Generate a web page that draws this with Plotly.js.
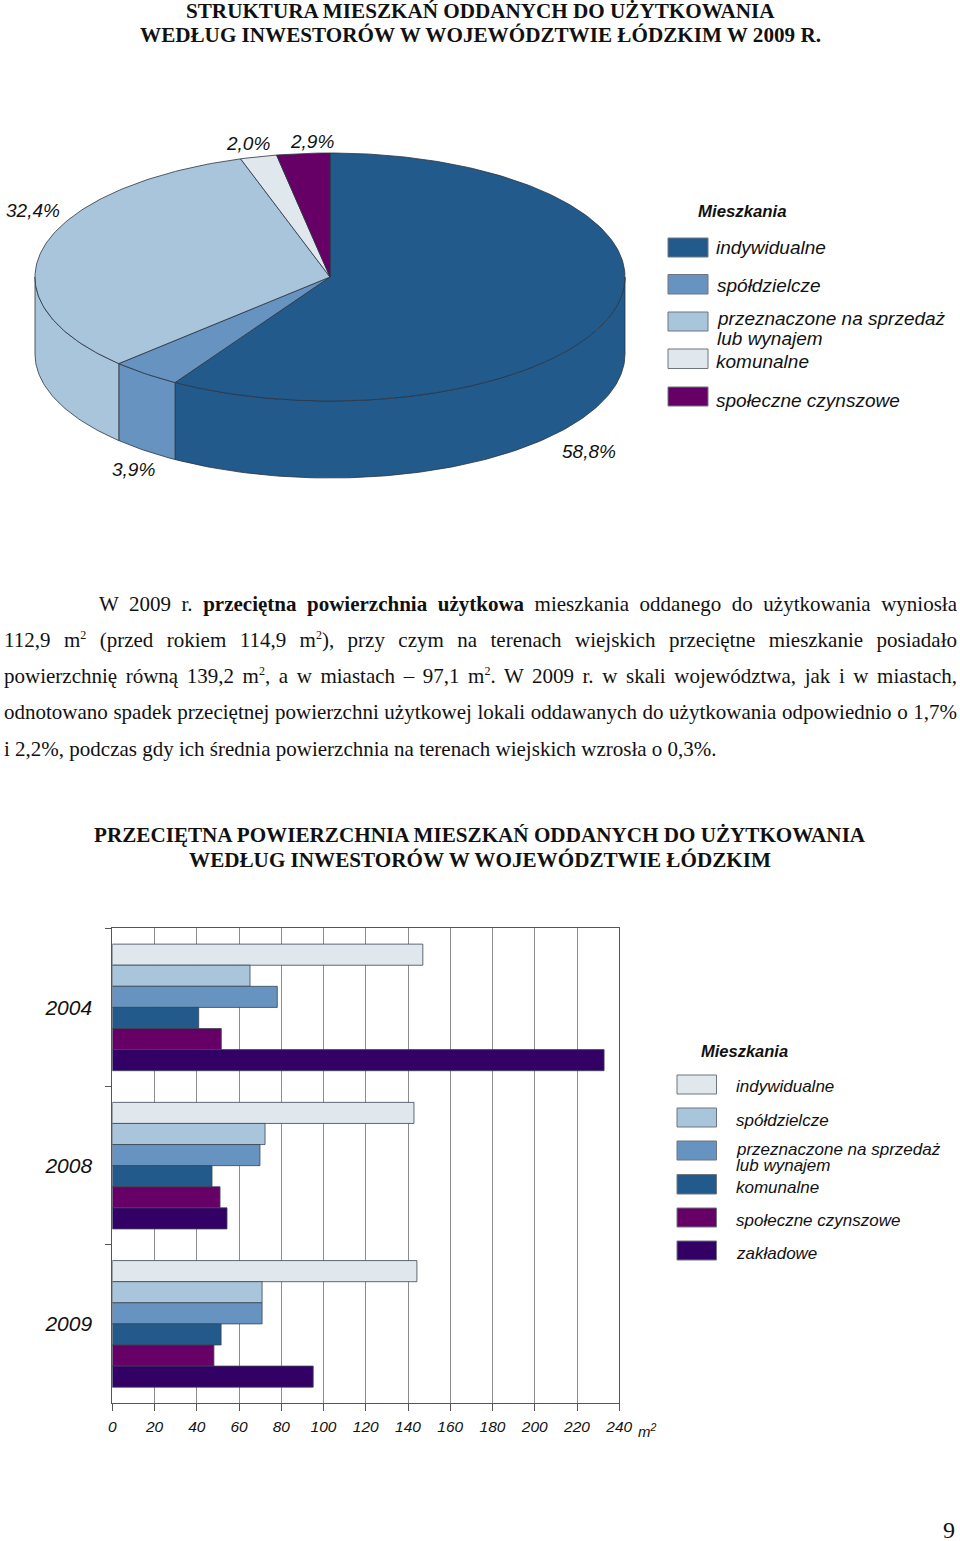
<!DOCTYPE html>
<html>
<head>
<meta charset="utf-8">
<script src="https://cdn.plot.ly/plotly-3.0.1.min.js"></script>
<style>
body { margin: 0; background: #fff; }
#page { position: relative; width: 960px; height: 1541px; overflow: hidden; }
#graphDiv { width: 960px; height: 1541px; }
.line { position: absolute; left: 4px; width: 953px; font: 21px "Liberation Serif", serif; color: #111;
        line-height: 36px; white-space: nowrap; text-align: justify; text-align-last: justify; }
.line sup { font-size: 12px; line-height: 1; }
#pageno { position: absolute; left: 943px; top: 1518px; font: 24px/24px "Liberation Serif", serif; color: #111; }
</style>
</head>
<body>
<div id="page">
  <div id="graphDiv"></div>
  <div class="line" style="top:586px; left:99px; width:858px">W 2009 r. <b>przeciętna powierzchnia użytkowa</b> mieszkania oddanego do użytkowania wyniosła</div>
  <div class="line" style="top:622px">112,9 m<sup>2</sup> (przed rokiem 114,9 m<sup>2</sup>), przy czym na terenach wiejskich przeciętne mieszkanie posiadało</div>
  <div class="line" style="top:658px">powierzchnię równą 139,2 m<sup>2</sup>, a w miastach – 97,1 m<sup>2</sup>. W 2009 r. w skali województwa, jak i w miastach,</div>
  <div class="line" style="top:694px">odnotowano spadek przeciętnej powierzchni użytkowej lokali oddawanych do użytkowania odpowiednio o 1,7%</div>
  <div class="line" style="top:731px; text-align-last:left">i 2,2%, podczas gdy ich średnia powierzchnia na terenach wiejskich wzrosła o 0,3%.</div>
  <div id="pageno">9</div>
</div>
<script>
var pieLabels = ['58,8%', '3,9%', '32,4%', '2,0%', '2,9%'];
var pieShares = [58.8, 3.9, 32.4, 2.0, 2.9];
var pieColors = ['#225A8C', '#6693BF', '#A9C5DB', '#E1E8ED', '#660066'];
var pieNames = ['indywidualne', 'spółdzielcze', 'przeznaczone na sprzedaż', 'lub wynajem', 'komunalne', 'społeczne czynszowe'];

var years = ['2004', '2008', '2009'];
var barNames = ['indywidualne', 'spółdzielcze', 'przeznaczone na sprzedaż', 'komunalne', 'społeczne czynszowe', 'zakładowe'];
var barColors = ['#E1E8ED', '#A9C5DB', '#6693BF', '#225A8C', '#660066', '#330066'];
var indywidualne = [147, 142.8, 144.2];
var spoldzielcze = [65.2, 72.3, 70.9];
var sprzedaz = [78.1, 69.9, 70.9];
var komunalne = [40.9, 47.2, 51.5];
var spoleczne = [51.6, 51, 48.1];
var zakladowe = [232.8, 54.3, 95.1];
var barValues = [indywidualne, spoldzielcze, sprzedaz, komunalne, spoleczne, zakladowe];

// pie geometry, in page pixels (x2/y2 cover the whole page)
var cx = 330, cy = 277, rx = 295, ry = 124, depth = 77;

function ex(a) { return cx + rx * Math.sin(a * Math.PI / 180); }
function ey(a) { return cy - ry * Math.cos(a * Math.PI / 180); }
function arc(a0, a1) {
    var out = [], n = Math.max(2, Math.ceil(Math.abs(a1 - a0)));
    for (var i = 0; i <= n; i++) out.push(a0 + (a1 - a0) * i / n);
    return out;
}
function piePoly(xs, ys, color) {
    return {
        x: xs, y: ys, xaxis: 'x2', yaxis: 'y2', type: 'scatter', mode: 'lines', fill: 'toself',
        fillcolor: color, line: {color: '#2b3440', width: 0.8}, hoverinfo: 'skip', showlegend: false
    };
}

var walls = [], tops = [], start = 0;
pieShares.forEach(function (s, i) {
    var a0 = start, a1 = start + s * 3.6;
    start = a1;
    var w0 = Math.max(a0, 90), w1 = Math.min(a1, 270);
    if (w1 > w0) {
        var pts = arc(w0, w1), back = pts.slice().reverse();
        walls.push(piePoly(
            pts.map(ex).concat(back.map(ex), [ex(w0)]),
            pts.map(ey).concat(back.map(function (a) { return ey(a) + depth; }), [ey(w0)]),
            pieColors[i]));
    }
    var top = arc(a0, a1);
    tops.push(piePoly([cx].concat(top.map(ex), [cx]), [cy].concat(top.map(ey), [cy]), pieColors[i]));
});

var bars = barValues.map(function (v, i) {
    return {
        type: 'bar', orientation: 'h', y: years, x: v, name: barNames[i],
        marker: {color: barColors[i], line: {color: '#3a4654', width: 0.8}},
        hoverinfo: 'x+name', showlegend: false
    };
});

var sans = '"Liberation Sans", Arial, sans-serif';
var serif = '"Liberation Serif", serif';

function note(text, x, y, size, opts) {
    opts = opts || {};
    return {
        text: text, x: x, y: y, xref: 'x2', yref: 'y2', showarrow: false,
        xanchor: opts.anchor || 'left', yanchor: 'middle', borderpad: 0, borderwidth: 0,
        font: {family: opts.family || sans, size: size, color: '#111',
               style: opts.plain ? 'normal' : 'italic', weight: opts.bold ? 700 : 400}
    };
}
function swatch(x0, y0, x1, y1, color) {
    return {
        type: 'rect', xref: 'x2', yref: 'y2', x0: x0, y0: y0, x1: x1, y1: y1,
        fillcolor: color, line: {color: '#6e7680', width: 1}
    };
}

var titleOpts = {family: serif, plain: true, bold: true, anchor: 'center'};
var notes = [
    note('STRUKTURA MIESZKAŃ ODDANYCH DO UŻYTKOWANIA', 480, 11, 21.15, titleOpts),
    note('WEDŁUG INWESTORÓW W WOJEWÓDZTWIE ŁÓDZKIM W 2009 R.', 480, 35, 21.15, titleOpts),
    note('PRZECIĘTNA POWIERZCHNIA MIESZKAŃ ODDANYCH DO UŻYTKOWANIA', 480, 835, 21.15, titleOpts),
    note('WEDŁUG INWESTORÓW W WOJEWÓDZTWIE ŁÓDZKIM', 480, 859.5, 21.15, titleOpts),
    note(pieLabels[0], 589, 451, 19, {anchor: 'center'}),
    note(pieLabels[1], 133, 469, 19, {anchor: 'center'}),
    note(pieLabels[2], 33, 210, 19, {anchor: 'center'}),
    note(pieLabels[3], 248, 143, 19, {anchor: 'center'}),
    note(pieLabels[4], 312, 141, 19, {anchor: 'center'}),
    note('Mieszkania', 698, 211, 16.8, {bold: true}),
    note(pieNames[0], 716, 247, 19),
    note(pieNames[1], 717, 285, 19),
    note(pieNames[2], 717, 318, 19),
    note(pieNames[3], 717, 338, 19),
    note(pieNames[4], 715.5, 361, 19),
    note(pieNames[5], 716, 400, 19),
    note('Mieszkania', 701, 1051, 16.5, {bold: true}),
    note(barNames[0], 736, 1086, 17),
    note(barNames[1], 736, 1120, 17),
    note(barNames[2], 736, 1149, 17),
    note('lub wynajem', 736, 1165, 17),
    note(barNames[3], 736, 1187, 17),
    note(barNames[4], 736, 1220, 17),
    note(barNames[5], 736, 1253, 17),
    note('m<sup>2</sup>', 638, 1430, 15)
];

var swatches = [];
[[238, 257], [274.5, 294], [312, 331], [349, 368.5], [387, 406]].forEach(function (r, i) {
    swatches.push(swatch(668, r[0], 708, r[1], pieColors[i]));
});
[[1075, 1094], [1108, 1127], [1141, 1160], [1174.5, 1194], [1208, 1227], [1241, 1260]].forEach(function (r, i) {
    swatches.push(swatch(677, r[0], 716.5, r[1], barColors[i]));
});

var layout = {
    width: 960, height: 1541,
    margin: {l: 0, r: 0, t: 0, b: 0},
    paper_bgcolor: '#fff', plot_bgcolor: 'rgba(0,0,0,0)',
    showlegend: false, barmode: 'group', bargap: 0.2, bargroupgap: 0,
    xaxis: {
        domain: [112.3 / 960, 619.3 / 960], range: [0, 240], tick0: 0, dtick: 20, zeroline: false,
        showline: true, mirror: true, linecolor: '#555', linewidth: 1,
        showgrid: true, gridcolor: '#8c8c8c', gridwidth: 1,
        ticks: 'outside', ticklen: 7, tickcolor: '#555', ticklabelstandoff: 2,
        tickfont: {family: sans, size: 15.5, color: '#111', style: 'italic'}
    },
    yaxis: {
        domain: [1 - 1403 / 1541, 1 - 928.3 / 1541], type: 'category', autorange: 'reversed',
        showline: true, mirror: true, linecolor: '#555', linewidth: 1, showgrid: false,
        ticks: 'outside', ticklen: 6, tickcolor: '#555', tickson: 'boundaries', ticklabelstandoff: 15,
        tickfont: {family: sans, size: 21, color: '#111', style: 'italic'}
    },
    xaxis2: {domain: [0, 1], range: [0, 960], anchor: 'y2', visible: false, fixedrange: true},
    yaxis2: {domain: [0, 1], range: [1541, 0], anchor: 'x2', visible: false, fixedrange: true},
    annotations: notes,
    shapes: swatches
};

Plotly.newPlot('graphDiv', bars.concat(walls, tops), layout, {displayModeBar: false, staticPlot: true});
</script>
</body>
</html>
